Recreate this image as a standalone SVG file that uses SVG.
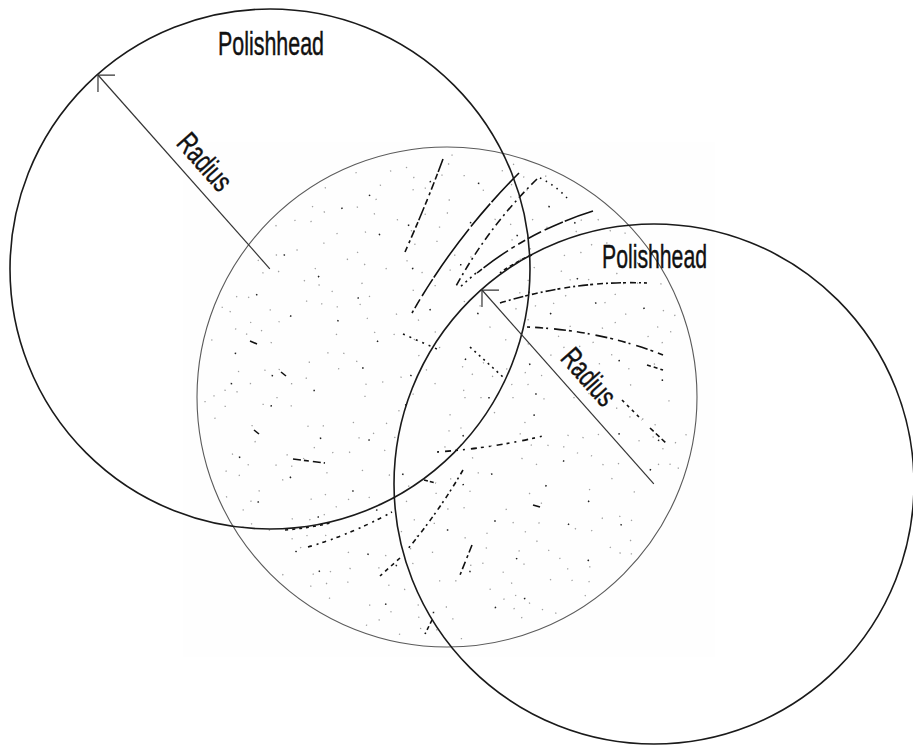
<svg xmlns="http://www.w3.org/2000/svg" width="913" height="746" viewBox="0 0 913 746">
<style>
.head{fill:none;stroke:#1a1a1a;stroke-width:1.6}
.wafer{fill:none;stroke:#5a5a5a;stroke-width:1.1}
.lbl{font-family:"Liberation Sans",Arial,sans-serif;fill:#111;stroke:#111;stroke-width:0.45}
.rad{stroke:#333;stroke-width:1.2;fill:none}
.dg{fill:none;stroke:#a0a0a0;stroke-width:1.3}
.dk{fill:none;stroke:#222;stroke-width:1.5}
.sc{fill:none;stroke:#111;stroke-width:1.6;stroke-linecap:butt}
</style>
<defs>
<clipPath id="wclip"><circle cx="447" cy="397" r="247"/></clipPath>
<marker id="ah" markerUnits="userSpaceOnUse" markerWidth="30" markerHeight="30" refX="0" refY="0" orient="auto" style="overflow:visible">
<path d="M11.3,-12.7 L0,0 L12.7,11.3" fill="none" stroke="#333" stroke-width="1.2"/>
</marker>
</defs>
<rect width="913" height="746" fill="#fff"/>
<rect x="183" y="142" width="532" height="515" fill="#fefefe"/>
<g id="wafer">
<g clip-path="url(#wclip)">
<circle class="dg" cx="447" cy="397" r="18" stroke-dasharray="1.3 23 1.3 45 1.3 33"/>
<circle class="dg" cx="447" cy="397" r="34" stroke-dasharray="1.3 37 1.3 11 1.3 57 1.3 27"/>
<circle class="dg" cx="447" cy="397" r="50" stroke-dasharray="1.3 21 1.3 47 1.3 15 1.3 61 1.3 33 1.3 27" stroke-dashoffset="7"/>
<circle class="dg" cx="447" cy="397" r="66" stroke-dasharray="1.3 53 1.3 21 1.3 85 1.3 15 1.3 41"/>
<circle class="dg" cx="447" cy="397" r="82" stroke-dasharray="1.3 37 1.3 11 1.3 57 1.3 27 1.3 73 1.3 19" stroke-dashoffset="13"/>
<circle class="dg" cx="447" cy="397" r="97" stroke-dasharray="1.3 21 1.3 47 1.3 15 1.3 61 1.3 33 1.3 27" stroke-dashoffset="21"/>
<circle class="dg" cx="447" cy="397" r="112" stroke-dasharray="1.3 53 1.3 21 1.3 85 1.3 15 1.3 41" stroke-dashoffset="5"/>
<circle class="dg" cx="447" cy="397" r="127" stroke-dasharray="1.3 37 1.3 11 1.3 57 1.3 27 1.3 73 1.3 19"/>
<circle class="dg" cx="447" cy="397" r="142" stroke-dasharray="1.3 21 1.3 47 1.3 15 1.3 61 1.3 33 1.3 27" stroke-dashoffset="30"/>
<circle class="dg" cx="447" cy="397" r="156" stroke-dasharray="1.3 53 1.3 21 1.3 85 1.3 15 1.3 41" stroke-dashoffset="17"/>
<circle class="dg" cx="447" cy="397" r="170" stroke-dasharray="1.3 37 1.3 11 1.3 57 1.3 27 1.3 73 1.3 19" stroke-dashoffset="40"/>
<circle class="dg" cx="447" cy="397" r="184" stroke-dasharray="1.3 21 1.3 47 1.3 15 1.3 61 1.3 33 1.3 27" stroke-dashoffset="3"/>
<circle class="dg" cx="447" cy="397" r="197" stroke-dasharray="1.3 53 1.3 21 1.3 85 1.3 15 1.3 41" stroke-dashoffset="33"/>
<circle class="dg" cx="447" cy="397" r="210" stroke-dasharray="1.3 37 1.3 11 1.3 57 1.3 27 1.3 73 1.3 19" stroke-dashoffset="11"/>
<circle class="dg" cx="447" cy="397" r="222" stroke-dasharray="1.3 21 1.3 47 1.3 15 1.3 61 1.3 33 1.3 27" stroke-dashoffset="19"/>
<circle class="dg" cx="447" cy="397" r="233" stroke-dasharray="1.3 53 1.3 21 1.3 85 1.3 15 1.3 41" stroke-dashoffset="9"/>
<circle class="dg" cx="447" cy="397" r="242" stroke-dasharray="1.3 61 1.3 33 1.3 97" stroke-dashoffset="25"/>
<circle class="dk" cx="447" cy="397" r="42" stroke-dasharray="1.5 47 1.5 73 1.5 29 1.5 61"/>
<circle class="dk" cx="447" cy="397" r="89" stroke-dasharray="1.5 47 1.5 73 1.5 29 1.5 61" stroke-dashoffset="31"/>
<circle class="dk" cx="447" cy="397" r="133" stroke-dasharray="1.5 47 1.5 73 1.5 29 1.5 61" stroke-dashoffset="57"/>
<circle class="dk" cx="447" cy="397" r="176" stroke-dasharray="1.5 47 1.5 73 1.5 29 1.5 61" stroke-dashoffset="12"/>
<circle class="dk" cx="447" cy="397" r="216" stroke-dasharray="1.5 47 1.5 73 1.5 29 1.5 61" stroke-dashoffset="80"/>
</g>
<g id="scratches">
<path class="sc" d="M443,159 Q428,200 405,252" stroke-dasharray="14 2 6 3 8 3 3 4 6 3"/>
<path class="sc" d="M519,173 Q456,236 412,313" stroke-width="2" stroke-dasharray="40 2 30 3 60 2 20 4 10 3 6 3"/>
<path class="sc" d="M537,179 Q488,227 455,288" stroke-dasharray="8 4 2 4"/>
<path class="sc" d="M593,211 Q529,231 477,273" stroke-width="1.9" stroke-dasharray="30 2 20 4 15 3 8 4 4 4"/>
<path class="sc" d="M476,273 L459,288" stroke-dasharray="2 4"/>
<path class="sc" d="M532,255 Q515,262 500,273" stroke-dasharray="4 3"/>
<path class="sc" d="M540,178 Q555,185 567,198" stroke-dasharray="1.5 5"/>
<path class="sc" d="M500,303 Q575,280 647,283" stroke-dasharray="6 3 2 3 10 2 3 4"/>
<path class="sc" d="M527,327 Q600,330 663,355" stroke-dasharray="3 5 8 3 2 6 12 3"/>
<path class="sc" d="M647,365 L663,370" stroke-dasharray="4 3"/>
<path class="sc" d="M622,400 L642,420" stroke-dasharray="3 4"/>
<path class="sc" d="M650,428 L667,444" stroke-dasharray="5 3"/>
<path class="sc" d="M470,347 L503,377" stroke-dasharray="2 4"/>
<path class="sc" d="M403,334 L437,349" stroke-dasharray="2 5"/>
<path class="sc" d="M293,459 L325,463" stroke-dasharray="8 3 5 4"/>
<path class="sc" d="M285,530 Q310,528 330,523" stroke-dasharray="3 4"/>
<path class="sc" d="M308,547 Q350,535 392,512" stroke-dasharray="4 5 2 4"/>
<path class="sc" d="M463,470 Q440,510 407,550" stroke-dasharray="5 4 2 3"/>
<path class="sc" d="M400,558 L380,576" stroke-dasharray="4 4"/>
<path class="sc" d="M472,545 L460,575" stroke-dasharray="8 3 3 4"/>
<path class="sc" d="M432,620 L425,634" stroke-dasharray="4 3"/>
<path class="sc" d="M437,452 Q495,448 547,435" stroke-dasharray="2 6 6 4 3 5"/>
<path class="sc" d="M533,505 L540,507"/>
<path class="sc" d="M250,341 L257,344"/>
<path class="sc" d="M281,372 L286,376"/>
<path class="sc" d="M254,430 L259,434"/>
<path class="sc" d="M424,480 L436,483" stroke-dasharray="4 2"/>
</g>
<circle class="wafer" cx="447" cy="397" r="250"/>
</g>
<g id="polishhead-left">
<circle class="head" cx="270" cy="269" r="260"/>
<text class="lbl" x="218" y="55" font-size="34" textLength="106" lengthAdjust="spacingAndGlyphs">Polishhead</text>
</g>
<g id="polishhead-right">
<circle class="head" cx="654" cy="484" r="260"/>
<text class="lbl" x="602" y="268" font-size="34" textLength="105" lengthAdjust="spacingAndGlyphs">Polishhead</text>
</g>
<g id="connectors">
<g transform="translate(98,75) rotate(48.44)">
<line class="rad" x1="0" y1="0" x2="259" y2="0" marker-start="url(#ah)"/>
<text class="lbl" x="103" y="-12" font-size="30" textLength="66" lengthAdjust="spacingAndGlyphs">Radius</text>
</g>
<g transform="translate(482,290) rotate(48.44)">
<line class="rad" x1="0" y1="0" x2="259" y2="0" marker-start="url(#ah)"/>
<text class="lbl" x="103" y="-12" font-size="30" textLength="66" lengthAdjust="spacingAndGlyphs">Radius</text>
</g>
</g>
</svg>
